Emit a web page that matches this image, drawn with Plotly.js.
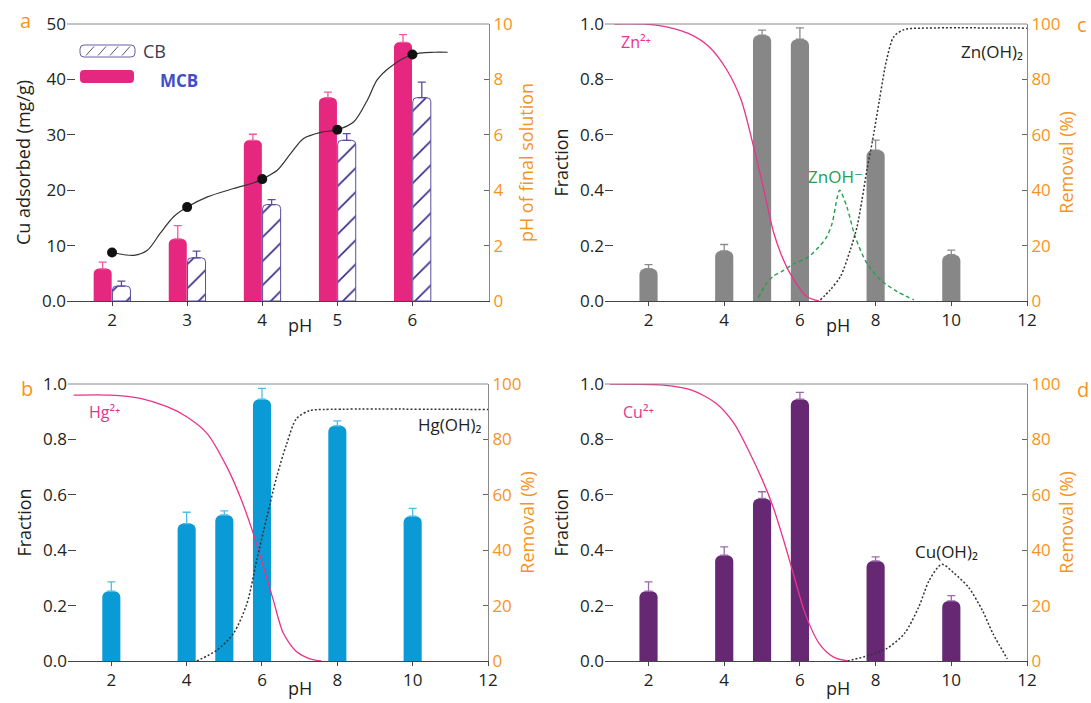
<!DOCTYPE html>
<html>
<head>
<meta charset="utf-8">
<script src="https://cdn.plot.ly/plotly-3.0.1.min.js"></script>
<style>html,body{margin:0;padding:0;background:#fff;}#chart{width:1091px;height:703px;}</style>
</head>
<body>
<div id="chart"></div>
<script>
// ---------- Panel a: Cu adsorbed on CB / MCB ----------
const phA = [2, 3, 4, 5, 6];
const mcb = [5.8, 11.2, 29.0, 36.7, 46.7];
const mcbErr = [1.2, 2.4, 1.1, 1.0, 1.4];
const cb = [2.7, 7.8, 17.4, 29.0, 36.7];
const cbErr = [0.9, 1.2, 0.9, 1.2, 2.8];
const finalPH = [1.75, 3.39, 4.40, 6.18, 8.9];
const phCurveX = [2.0, 2.29, 2.47, 2.64, 2.82, 3.0, 3.27, 3.62, 3.89, 4.0, 4.2, 4.38, 4.55, 4.78, 5.0, 5.22, 5.4, 5.53, 5.71, 6.0, 6.29, 6.47];
const phCurveY = [1.75, 1.65, 1.83, 2.44, 3.04, 3.39, 3.76, 4.06, 4.27, 4.40, 4.72, 5.33, 5.87, 6.09, 6.18, 6.47, 7.25, 7.98, 8.46, 8.9, 8.98, 8.98];
const tickA = [0, 10, 20, 30, 40, 50];
const tickAText = ['0.0', '10', '20', '30', '40', '50'];
const tickPH = [0, 2, 4, 6, 8, 10];

// ---------- Panels b, c, d: removal and speciation ----------
const phR = [2, 4, 5, 6, 8, 10];
const phTicks = [2, 4, 6, 8, 10, 12];
const fracTicks = [0, 0.2, 0.4, 0.6, 0.8, 1.0];
const fracText = ['0.0', '0.2', '0.4', '0.6', '0.8', '1.0'];
const remTicks = [0, 20, 40, 60, 80, 100];

// c: Zn
const znRem = [11.7, 18.1, 96.0, 94.5, 54.5, 16.7];
const znErr = [1.4, 2.3, 1.8, 4.1, 3.6, 1.7];
const zn2X = [1.1, 2.2, 3.05, 3.6, 4.07, 4.45, 4.77, 5.0, 5.3, 5.5, 5.74, 6.18, 6.5];
const zn2Y = [1.0, 0.996, 0.966, 0.918, 0.834, 0.725, 0.56, 0.43, 0.25, 0.17, 0.10, 0.016, 0.0];
const znohX = [4.9, 5.1, 5.3, 5.56, 5.85, 6.18, 6.5, 6.7, 6.85, 6.98, 7.05, 7.24, 7.46, 7.77, 8.13, 8.57, 9.01];
const znohY = [0.012, 0.06, 0.09, 0.11, 0.135, 0.155, 0.195, 0.23, 0.28, 0.37, 0.40, 0.34, 0.232, 0.136, 0.076, 0.034, 0.004];
const znoh2X = [6.54, 6.8, 7.07, 7.33, 7.51, 7.64, 7.77, 7.92, 8.10, 8.29, 8.48, 8.76, 9.2, 12.0];
const znoh2Y = [0.004, 0.04, 0.088, 0.184, 0.268, 0.365, 0.473, 0.58, 0.725, 0.87, 0.954, 0.98, 0.985, 0.985];

// b: Hg
const hgRem = [25.2, 49.6, 52.7, 94.5, 84.9, 52.3];
const hgErr = [3.4, 4.1, 1.5, 3.9, 1.8, 2.8];
const hg2X = [1.0, 1.97, 2.77, 3.48, 4.0, 4.54, 5.07, 5.42, 5.77, 6.04, 6.30, 6.57, 6.92, 7.27, 7.58];
const hg2Y = [0.96, 0.96, 0.948, 0.918, 0.882, 0.822, 0.70, 0.593, 0.46, 0.34, 0.22, 0.099, 0.033, 0.008, 0.0];
const hgoh2X = [4.27, 4.8, 5.24, 5.6, 5.86, 6.13, 6.39, 6.66, 6.92, 7.27, 7.63, 12.0];
const hgoh2Y = [0.0, 0.039, 0.099, 0.207, 0.364, 0.52, 0.665, 0.786, 0.876, 0.904, 0.908, 0.908];

// d: Cu
const cuRem = [25.2, 38.2, 58.7, 94.5, 36.1, 21.7];
const cuErr = [3.4, 3.0, 2.4, 2.5, 1.5, 1.9];
const cu2X = [0.98, 2.39, 3.14, 3.79, 4.26, 4.64, 5.01, 5.29, 5.57, 5.85, 6.14, 6.51, 6.89, 7.26];
const cu2Y = [1.0, 0.996, 0.978, 0.93, 0.858, 0.761, 0.653, 0.557, 0.436, 0.304, 0.171, 0.063, 0.014, 0.0];
const cuoh2X = [7.26, 7.82, 8.29, 8.76, 9.14, 9.42, 9.75, 10.08, 10.45, 10.82, 11.1, 11.48];
const cuoh2Y = [0.0, 0.02, 0.045, 0.099, 0.195, 0.292, 0.349, 0.316, 0.267, 0.183, 0.099, 0.008];

// ---------- styling ----------
const W = 1091, H = 703;
const px = x => x / W;
const py = y => 1 - y / H;
const FONT = 'Open Sans, DejaVu Sans, sans-serif';
const TXT = '#231f20';
const ORANGE = '#F7941D';
const PINK = '#E8338C';
const zeros = a => a.map(() => 0);

function errY(arr, color) {
  return {type: 'data', array: arr, arrayminus: zeros(arr), symmetric: false, color: color, thickness: 1.3, width: 4};
}
function barTrace(x, y, err, color, ecolor, xa, ya) {
  return {type: 'bar', x: x, y: y, width: 0.48, marker: {color: color, cornerradius: 6},
    error_y: errY(err, ecolor), xaxis: xa, yaxis: ya, hoverinfo: 'x+y'};
}
function curve(x, y, color, dash, xa, ya, w) {
  return {type: 'scatter', mode: 'lines', x: x, y: y, xaxis: xa, yaxis: ya,
    line: {color: color, width: w || 1.3, dash: dash, shape: 'spline', smoothing: 0.8}};
}

const traces = [
  // panel a
  {type: 'bar', x: phA, y: mcb, width: 0.24, offset: -0.245, xaxis: 'x', yaxis: 'y', name: 'MCB',
   marker: {color: '#E6277F', cornerradius: 5}, error_y: errY(mcbErr, '#EE5A9B')},
  {type: 'bar', x: phA, y: cb, width: 0.24, offset: 0.005, xaxis: 'x', yaxis: 'y', name: 'CB',
   marker: {color: 'white', cornerradius: 4, line: {color: '#5B4C9E', width: 1},
            pattern: {shape: '/', fgcolor: '#3B2E8A', bgcolor: 'white', size: 17, solidity: 0.1}},
   error_y: errY(cbErr, '#5B4C9E')},
  curve(phCurveX, phCurveY, '#333333', 'solid', 'x', 'y2', 1.2),
  {type: 'scatter', mode: 'markers', x: phA, y: finalPH, xaxis: 'x', yaxis: 'y2',
   marker: {color: '#111111', size: 10}},
  // panel c (Zn)
  barTrace(phR, znRem, znErr, '#878787', '#8c8c8c', 'x2', 'y3'),
  curve(zn2X, zn2Y, PINK, 'solid', 'x2', 'y4'),
  curve(znohX, znohY, '#23A04C', '4px,3px', 'x2', 'y4', 1.4),
  curve(znoh2X, znoh2Y, '#333333', '2px,2px', 'x2', 'y4', 1.5),
  // panel b (Hg)
  barTrace(phR, hgRem, hgErr, '#0A9AD6', '#4DBEEA', 'x3', 'y5'),
  curve(hg2X, hg2Y, PINK, 'solid', 'x3', 'y6'),
  curve(hgoh2X, hgoh2Y, '#333333', '2px,2px', 'x3', 'y6', 1.5),
  // panel d (Cu)
  barTrace(phR, cuRem, cuErr, '#662873', '#9A6AAA', 'x4', 'y7'),
  curve(cu2X, cu2Y, PINK, 'solid', 'x4', 'y8'),
  curve(cuoh2X, cuoh2Y, '#333333', '2px,2px', 'x4', 'y8', 1.5)
];

const tickFont = {family: FONT, size: 17, color: TXT};
const orangeFont = {family: FONT, size: 17, color: ORANGE};
function xAxis(dom, anchor, range, tv) {
  return {domain: dom, anchor: anchor, range: range, tickvals: tv, ticks: 'outside', ticklen: 4,
    tickcolor: '#444', showline: true, linecolor: '#444', linewidth: 1, showgrid: false,
    zeroline: false, tickfont: tickFont, fixedrange: true};
}
function leftAxis(dom, anchor, range, tv, tt, title, overlay) {
  const a = {domain: dom, anchor: anchor, range: range, tickvals: tv, ticktext: tt, side: 'left',
    ticks: 'inside', ticklen: 8, tickcolor: '#444', showline: false, showgrid: false, zeroline: false,
    tickfont: tickFont, fixedrange: true,
    title: {text: title, font: {family: FONT, size: 18, color: TXT}, standoff: 6}};
  if (overlay) a.overlaying = overlay;
  return a;
}
function rightAxis(dom, anchor, range, tv, title, overlay, standoff) {
  const a = {domain: dom, anchor: anchor, range: range, tickvals: tv, side: 'right',
    ticks: 'inside', ticklen: 5, tickcolor: '#666', showline: true, linecolor: '#888', linewidth: 1,
    showgrid: false, zeroline: false, tickfont: orangeFont, fixedrange: true,
    title: {text: title, font: {family: FONT, size: 18, color: ORANGE}, standoff: standoff}};
  if (overlay) a.overlaying = overlay;
  return a;
}

const xA = [px(67), px(489)], xC = [px(605), px(1027)], xB = [px(68), px(488)], xD = [px(605), px(1027)];
const yTop = [py(301), py(24)], yBot = [py(661), py(384)];

function rrect(x0, y0, x1, y1, r) {
  // rounded rectangle path in paper coordinates, from pixel values
  const X = v => px(v), Y = v => py(v);
  return 'M' + X(x0 + r) + ',' + Y(y0) + ' L' + X(x1 - r) + ',' + Y(y0) +
    ' Q' + X(x1) + ',' + Y(y0) + ' ' + X(x1) + ',' + Y(y0 + r) +
    ' L' + X(x1) + ',' + Y(y1 - r) + ' Q' + X(x1) + ',' + Y(y1) + ' ' + X(x1 - r) + ',' + Y(y1) +
    ' L' + X(x0 + r) + ',' + Y(y1) + ' Q' + X(x0) + ',' + Y(y1) + ' ' + X(x0) + ',' + Y(y1 - r) +
    ' L' + X(x0) + ',' + Y(y0 + r) + ' Q' + X(x0) + ',' + Y(y0) + ' ' + X(x0 + r) + ',' + Y(y0) + ' Z';
}

const shapes = [];
// top frame lines
[['x', 'y'], ['x2', 'y3'], ['x3', 'y5'], ['x4', 'y7']].forEach(([xa, ya]) => {
  shapes.push({type: 'line', xref: xa + ' domain', yref: ya + ' domain', x0: 0, x1: 1, y0: 1, y1: 1,
    line: {color: '#8a8a8a', width: 1}});
});
// legend of panel a
shapes.push({type: 'path', xref: 'paper', yref: 'paper', path: rrect(80, 45, 135, 57, 4),
  fillcolor: 'white', line: {color: '#6A5FA0', width: 1}});
[86, 98, 110, 122].forEach(x => {
  shapes.push({type: 'line', xref: 'paper', yref: 'paper', x0: px(x), y0: py(55.5), x1: px(x + 8), y1: py(46.5),
    line: {color: '#555566', width: 1}});
});
shapes.push({type: 'path', xref: 'paper', yref: 'paper', path: rrect(80, 70, 134, 83, 4),
  fillcolor: '#E6277F', line: {width: 0}});

const ann = (text, x, y, opts) => Object.assign({text: text, x: x, y: y, showarrow: false,
  xanchor: 'center', yanchor: 'middle'}, opts);
const P = {xref: 'paper', yref: 'paper'};
const annotations = [
  // legend labels
  ann('CB', px(141), py(51), Object.assign({xanchor: 'left', font: {family: FONT, size: 18, color: '#3d3a55'}}, P)),
  ann('<b>MCB</b>', px(158), py(80), Object.assign({xanchor: 'left', font: {family: FONT, size: 17, color: '#3F4FC8'}}, P)),
  // x titles
  ann('pH', px(300), py(325), Object.assign({font: {family: FONT, size: 18, color: TXT}}, P)),
  ann('pH', px(838), py(325), Object.assign({font: {family: FONT, size: 18, color: TXT}}, P)),
  ann('pH', px(300), py(688), Object.assign({font: {family: FONT, size: 18, color: TXT}}, P)),
  ann('pH', px(838), py(688), Object.assign({font: {family: FONT, size: 18, color: TXT}}, P)),
  // panel letters
  ann('a', px(25), py(21), Object.assign({font: {family: FONT, size: 20, color: ORANGE}}, P)),
  ann('c', px(1082), py(24), Object.assign({font: {family: FONT, size: 20, color: ORANGE}}, P)),
  ann('b', px(27), py(388), Object.assign({font: {family: FONT, size: 20, color: ORANGE}}, P)),
  ann('d', px(1083), py(389), Object.assign({font: {family: FONT, size: 20, color: ORANGE}}, P)),
  // species labels
  ann('Zn²⁺', 1.22, 0.935, {xref: 'x2', yref: 'y4', xanchor: 'left', font: {family: FONT, size: 16, color: PINK}}),
  ann('Zn(OH)₂', 11.95, 0.9, {xref: 'x2', yref: 'y4', xanchor: 'right', font: {family: FONT, size: 17, color: TXT}}),
  ann('ZnOH⁻', 6.93, 0.45, {xref: 'x2', yref: 'y4', font: {family: FONT, size: 17, color: '#23A04C'}}),
  ann('Hg²⁺', 1.36, 0.9, {xref: 'x3', yref: 'y6', xanchor: 'left', font: {family: FONT, size: 16, color: PINK}}),
  ann('Hg(OH)₂', 11.9, 0.855, {xref: 'x3', yref: 'y6', xanchor: 'right', font: {family: FONT, size: 17, color: TXT}}),
  ann('Cu²⁺', 1.26, 0.9, {xref: 'x4', yref: 'y8', xanchor: 'left', font: {family: FONT, size: 16, color: PINK}}),
  ann('Cu(OH)₂', 9.88, 0.395, {xref: 'x4', yref: 'y8', font: {family: FONT, size: 17, color: TXT}})
];

const layout = {
  width: W, height: H, margin: {l: 0, r: 0, t: 0, b: 0},
  paper_bgcolor: 'white', plot_bgcolor: 'rgba(0,0,0,0)', showlegend: false, barmode: 'overlay',
  font: {family: FONT, color: TXT},
  xaxis: xAxis(xA, 'y', [1.4, 7.02], phA),
  yaxis: leftAxis(yTop, 'x', [0, 50], tickA, tickAText, 'Cu adsorbed (mg/g)'),
  yaxis2: rightAxis(yTop, 'x', [0, 10], tickPH, 'pH of final solution', 'y', 8),
  xaxis2: xAxis(xC, 'y3', [0.85, 12], phTicks),
  yaxis3: rightAxis(yTop, 'x2', [0, 100], remTicks, 'Removal (%)', null, 0),
  yaxis4: leftAxis(yTop, 'x2', [0, 1], fracTicks, fracText, 'Fraction', 'y3'),
  xaxis3: xAxis(xB, 'y5', [0.85, 12], phTicks),
  yaxis5: rightAxis(yBot, 'x3', [0, 100], remTicks, 'Removal (%)', null, 0),
  yaxis6: leftAxis(yBot, 'x3', [0, 1], fracTicks, fracText, 'Fraction', 'y5'),
  xaxis4: xAxis(xD, 'y7', [0.85, 12], phTicks),
  yaxis7: rightAxis(yBot, 'x4', [0, 100], remTicks, 'Removal (%)', null, 0),
  yaxis8: leftAxis(yBot, 'x4', [0, 1], fracTicks, fracText, 'Fraction', 'y7'),
  shapes: shapes,
  annotations: annotations
};

Plotly.newPlot('chart', traces, layout, {displayModeBar: false, staticPlot: true});
</script>
</body>
</html>
